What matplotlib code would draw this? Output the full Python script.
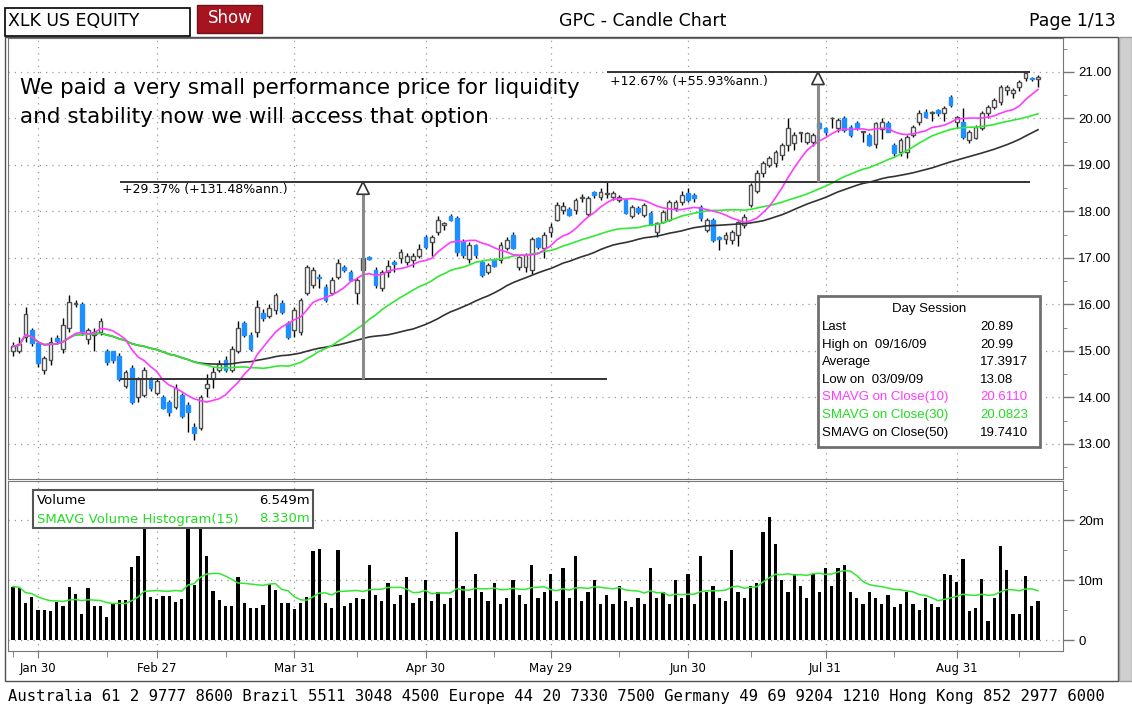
import numpy as np
import pandas as pd
import matplotlib
matplotlib.use("Agg")
import matplotlib.pyplot as plt
from matplotlib.patches import Rectangle, Polygon

W, H = 1132, 707

opens = [15.0, 15.0, 15.3, 15.45, 15.17, 14.6, 14.8, 15.28, 15.05, 15.5,
         16.0, 16.0, 15.25, 15.35, 15.4, 15.0, 15.0, 14.9, 14.25, 14.63,
         14.0, 14.05, 14.4, 14.1, 14.0, 13.9, 13.8, 14.05, 13.83, 13.37,
         13.35, 14.2, 14.4, 14.6, 14.8, 14.6, 15.0, 15.6, 15.35, 15.4,
         15.82, 15.75, 15.88, 16.03, 15.6, 15.45, 15.4, 16.25, 16.42, 16.6,
         16.38, 16.25, 16.6, 16.8, 16.7, 16.25, 16.74, 17.02, 16.74, 16.35,
         16.7, 16.92, 17.0, 16.92, 16.95, 17.05, 17.45, 17.35, 17.55, 17.7,
         17.9, 17.85, 17.35, 16.98, 17.28, 16.92, 16.7, 16.96, 16.96, 17.22,
         17.49, 16.8, 16.8, 16.74, 17.42, 17.22, 17.55, 17.82, 18.03, 18.05,
         18.03, 18.3, 17.95, 18.42, 18.32, 18.38, 18.32, 18.25, 18.25, 17.9,
         18.08, 17.92, 17.97, 17.55, 17.78, 17.82, 18.08, 18.2, 18.4, 18.35,
         18.1, 17.6, 17.82, 17.45, 17.4, 17.39, 17.5, 17.7, 18.14, 18.45,
         18.83, 19.0, 19.04, 19.22, 19.43, 19.47, 19.68, 19.5, 19.5, 19.9,
         19.8, 20.0, 19.8, 20.0, 19.82, 19.9, 19.72, 19.65, 19.45, 19.78,
         19.9, 19.43, 19.28, 19.28, 19.65, 19.92, 20.14, 20.12, 20.18, 20.12,
         20.46, 19.92, 19.92, 19.54, 19.58, 19.8, 20.12, 20.25, 20.36, 20.62,
         20.55, 20.68, 20.87, 20.88, 20.86]
highs = [15.2, 15.3, 15.95, 15.5, 15.2, 14.9, 15.3, 15.35, 15.7, 16.2,
         16.1, 16.05, 15.5, 15.5, 15.7, 15.05, 15.0, 14.95, 14.6, 14.7,
         14.45, 14.65, 14.45, 14.4, 14.05, 13.95, 14.3, 14.1, 13.9, 13.45,
         14.05, 14.5, 14.65, 14.8, 14.9, 15.1, 15.65, 15.65, 15.4, 16.1,
         15.9, 16.0, 16.25, 16.1, 15.65, 15.95, 16.15, 16.85, 16.8, 16.65,
         16.45, 16.6, 16.98, 16.85, 16.75, 16.6, 17.05, 17.05, 16.8, 16.75,
         16.95, 16.95, 17.2, 17.1, 17.1, 17.3, 17.5, 17.5, 17.9, 17.78,
         17.95, 17.9, 17.4, 17.35, 17.3, 16.95, 16.9, 17.0, 17.35, 17.45,
         17.55, 17.05, 17.1, 17.45, 17.45, 17.55, 17.75, 18.2, 18.2, 18.1,
         18.3, 18.37, 18.33, 18.45, 18.5, 18.64, 18.45, 18.36, 18.3, 18.15,
         18.12, 18.18, 18.0, 17.78, 18.03, 18.25, 18.25, 18.45, 18.5, 18.4,
         18.15, 17.85, 17.85, 17.48, 17.55, 17.6, 17.8, 17.95, 18.62, 18.9,
         19.08, 19.2, 19.32, 19.48, 20.0, 19.7, 19.72, 19.72, 19.68, 19.95,
         19.82, 20.03, 20.0, 20.05, 19.85, 19.95, 19.74, 19.68, 19.92, 20.0,
         19.95, 19.48, 19.58, 19.65, 19.86, 20.18, 20.2, 20.16, 20.2, 20.26,
         20.5, 20.06, 20.23, 19.75, 19.86, 20.16, 20.28, 20.45, 20.72, 20.72,
         20.66, 20.82, 20.99, 20.9, 20.93]
lows = [14.9, 14.95, 15.2, 15.1, 14.65, 14.5, 14.7, 15.15, 14.95, 15.4,
        15.95, 15.35, 15.15, 15.0, 15.35, 14.7, 14.75, 14.35, 14.2, 13.85,
        13.9, 14.0, 14.15, 14.05, 13.75, 13.6, 13.75, 13.55, 13.25, 13.08,
        13.3, 14.0, 14.2, 14.55, 14.55, 14.55, 14.95, 15.3, 15.0, 15.3,
        15.65, 15.7, 15.8, 15.8, 15.25, 15.3, 15.35, 16.2, 16.35, 16.35,
        16.05, 16.2, 16.55, 16.7, 16.5, 16.0, 16.6, 16.95, 16.35, 16.3,
        16.6, 16.7, 16.9, 16.85, 16.8, 17.0, 17.2, 17.05, 17.5, 17.6,
        17.8, 17.05, 17.0, 16.9, 17.0, 16.6, 16.65, 16.8, 16.9, 17.18,
        17.2, 16.75, 16.7, 16.65, 17.2, 17.0, 17.45, 17.8, 17.95, 17.9,
        17.95, 18.2, 17.9, 18.3, 18.25, 18.3, 18.25, 18.2, 17.95, 17.85,
        17.95, 17.88, 17.7, 17.45, 17.75, 17.8, 18.0, 18.15, 18.2, 18.2,
        17.8, 17.55, 17.35, 17.17, 17.3, 17.3, 17.25, 17.65, 18.1, 18.4,
        18.75, 18.95, 18.95, 19.1, 19.3, 19.33, 19.5, 19.45, 19.4, 19.75,
        19.65, 19.8, 19.7, 19.7, 19.6, 19.75, 19.5, 19.4, 19.37, 19.55,
        19.7, 19.2, 19.2, 19.15, 19.6, 19.85, 20.0, 19.95, 20.05, 19.95,
        20.25, 19.8, 19.55, 19.48, 19.55, 19.75, 20.0, 20.2, 20.3, 20.5,
        20.45, 20.6, 20.8, 20.8, 20.68]
closes = [15.1, 15.15, 15.8, 15.17, 14.74, 14.85, 15.2, 15.22, 15.55, 16.05,
          16.03, 15.4, 15.45, 15.4, 15.65, 14.76, 14.8, 14.4, 14.55, 13.9,
          14.4, 14.6, 14.2, 14.35, 13.77, 13.68, 14.2, 13.6, 13.68, 13.24,
          14.0, 14.3, 14.55, 14.72, 14.6, 15.05, 15.5, 15.35, 15.05, 15.95,
          15.72, 15.92, 16.2, 15.84, 15.3, 15.88, 16.1, 16.8, 16.74, 16.56,
          16.1, 16.53, 16.9, 16.75, 16.53, 16.53, 17.0, 16.98, 16.42, 16.7,
          16.82, 16.88, 17.12, 17.05, 17.05, 17.2, 17.23, 17.45, 17.82, 17.75,
          17.82, 17.12, 17.06, 17.28, 17.06, 16.63, 16.85, 16.82, 17.28, 17.38,
          17.22, 17.02, 17.06, 17.4, 17.23, 17.49, 17.67, 18.14, 18.12, 17.92,
          18.25, 18.32, 18.28, 18.35, 18.42, 18.4, 18.4, 18.32, 17.97, 18.1,
          17.99, 18.14, 17.71, 17.75, 17.99, 18.2, 18.2, 18.35, 18.25, 18.28,
          17.86, 17.82, 17.39, 17.4, 17.49, 17.55, 17.77, 17.88, 18.57, 18.83,
          19.04, 19.15, 19.28, 19.43, 19.8, 19.65, 19.7, 19.68, 19.65, 19.8,
          19.72, 20.02, 19.97, 19.75, 19.65, 19.8, 19.72, 19.43, 19.9, 19.92,
          19.72, 19.26, 19.54, 19.6, 19.82, 20.12, 20.03, 20.14, 20.12, 20.22,
          20.29, 20.03, 19.6, 19.72, 19.82, 20.12, 20.25, 20.4, 20.68, 20.68,
          20.61, 20.79, 20.98, 20.85, 20.89]
volume = [8.9, 8.7, 6.1, 7.2, 5.0, 5.0, 4.9, 6.3, 5.7, 8.9,
          7.6, 4.4, 8.6, 5.7, 5.7, 3.9, 6.1, 6.7, 6.7, 12.1,
          14.0, 19.5, 7.1, 6.9, 7.3, 7.3, 6.3, 6.9, 21.0, 9.2,
          20.0, 14.0, 8.1, 6.7, 5.6, 5.7, 10.5, 6.1, 5.3, 5.3,
          5.9, 9.4, 8.3, 6.2, 6.2, 5.1, 6.1, 7.2, 14.8, 15.2,
          6.2, 5.3, 15.0, 5.7, 6.2, 7.0, 6.8, 12.5, 7.5, 6.5,
          9.5, 6.0, 7.5, 10.5, 6.2, 7.0, 10.0, 6.5, 8.0, 6.0,
          7.0, 18.0, 9.0, 7.0, 11.0, 8.0, 6.5, 9.5, 6.0, 7.0,
          10.0, 7.5, 6.0, 12.5, 7.0, 8.0, 11.0, 6.5, 12.0, 7.0,
          14.0, 6.5, 8.0, 10.0, 6.0, 7.5, 6.0, 9.0, 6.5, 5.5,
          7.0, 6.0, 12.0, 7.0, 8.0, 6.0, 10.0, 7.0, 11.0, 6.0,
          14.0, 8.0, 9.0, 7.0, 6.5, 15.0, 8.0, 7.0, 9.0, 9.5,
          18.0, 20.5, 16.0, 10.0, 8.0, 11.0, 9.0, 7.0, 11.0, 8.0,
          12.0, 9.0, 12.0, 12.5, 8.0, 7.0, 6.0, 8.0, 7.0, 6.0,
          7.5, 5.5, 6.0, 8.0, 6.0, 5.0, 7.0, 6.0, 5.5, 11.0,
          10.8, 9.7, 13.5, 4.9, 5.3, 10.1, 3.1, 7.0, 15.6, 11.7,
          4.4, 4.4, 10.6, 5.7, 6.549]

day_rows = [("Last", "20.89"), ("High on  09/16/09", "20.99"), ("Average", "17.3917"),
            ("Low on  03/09/09", "13.08"), ("SMAVG on Close(10)", "20.6110"),
            ("SMAVG on Close(30)", "20.0823"), ("SMAVG on Close(50)", "19.7410")]

dates = pd.bdate_range("2009-01-26", "2009-09-18")
dates = dates[~dates.isin(pd.to_datetime(["2009-02-16", "2009-04-10", "2009-05-25",
                                            "2009-07-03", "2009-09-07"]))]

BLUE = "#1e8fff"
PINK = "#ff3cff"
GREEN = "#33e833"
GRID = dict(color="#9a9a9a", lw=0.9, ls=(0, (1, 4)))

o, h, l, c = map(np.array, (opens, highs, lows, closes))
x = np.arange(len(c))
s = pd.Series(c)
sma10 = s.rolling(10, min_periods=1).mean()
sma30 = s.rolling(30, min_periods=1).mean()
sma50 = s.rolling(50, min_periods=1).mean()
vsma = pd.Series(volume).rolling(15, min_periods=1).mean()


def fx(px):
    return px / W


def fy(py):
    return 1 - py / H


fig = plt.figure(figsize=(W / 100, H / 100), dpi=100)
plt.rcParams['font.family'] = ['Liberation Sans', 'DejaVu Sans']

ax = fig.add_axes([fx(8), fy(479), fx(1063) - fx(8), fy(38) - fy(479)])
axv = fig.add_axes([fx(8), fy(651), fx(1063) - fx(8), fy(481) - fy(651)])

# month-end labels and mid-month ticks
s_dates = pd.Series(dates)
month_end = s_dates.groupby(s_dates.dt.to_period("M")).idxmax().values[:-1]
mid = s_dates[s_dates.dt.day >= 15].groupby(s_dates.dt.to_period("M")).idxmin().values
xlim = (-0.8, 168)

# price panel
ax.vlines(x, l, h, color="black", lw=1, zorder=3)
up = c >= o
body_lo = np.minimum(o, c)
body_h = np.maximum(np.abs(c - o), 0.02)
ax.bar(x[up], body_h[up], bottom=body_lo[up], width=0.62, facecolor="white",
       edgecolor="#505050", lw=1, zorder=4)
ax.bar(x[~up], body_h[~up], bottom=body_lo[~up], width=0.62, facecolor=BLUE,
       edgecolor=BLUE, lw=1, zorder=4)
ax.plot(x, sma50, color="#333333", lw=1.2, zorder=5)
ax.plot(x, sma30, color=GREEN, lw=1.2, zorder=5)
ax.plot(x, sma10, color=PINK, lw=1.2, zorder=5)

ax.set_xlim(*xlim)
ax.set_ylim(12.247, 21.731)
ax.set_yticks(np.arange(13, 22, 1))
ax.set_yticklabels([f"{v:.2f}" for v in np.arange(13, 22, 1)], fontsize=9.5)
ax.set_yticks(np.arange(12.5, 22, 1), minor=True)
ax.yaxis.tick_right()
ax.tick_params(axis="y", which="major", length=8, width=1, color="#777777", pad=3)
ax.tick_params(axis="y", which="minor", length=3, color="#777777")
ax.set_xticks(month_end)
ax.tick_params(axis="x", length=0, labelbottom=False)
for v in np.arange(13, 22, 1):
    ax.axhline(v, zorder=1, **GRID)
for m in month_end:
    ax.axvline(m, zorder=1, **GRID)

# measurement lines
ax.hlines(14.4, 17.1, 95.0, color="#333333", lw=1.4, zorder=6)
ax.hlines(18.64, 17.1, 162.7, color="#333333", lw=1.4, zorder=6)
ax.hlines(21.0, 95.0, 162.7, color="#333333", lw=1.4, zorder=6)
for ax_x, y0, y1 in [(56.0, 14.4, 18.64), (128.8, 18.64, 21.0)]:
    ax.vlines(ax_x, y0, y1 - 0.27, color="#8a8a8a", lw=2.2, zorder=6)
    ax.add_patch(Polygon([(ax_x - 1.0, y1 - 0.27), (ax_x + 1.0, y1 - 0.27), (ax_x, y1)],
                         closed=True, facecolor="white", edgecolor="#333333", lw=1.2, zorder=7))
ax.text(17.5, 18.47, "+29.37% (+131.48%ann.)", fontsize=9, va="center", zorder=7,
        family="DejaVu Sans")
ax.text(95.5, 20.8, "+12.67% (+55.93%ann.)", fontsize=9, va="center", zorder=7,
        family="DejaVu Sans")

for sp in ax.spines.values():
    sp.set_color("#777777")

# volume panel
axv.bar(x, volume, width=0.55, color="black", zorder=3)
axv.plot(x, vsma, color=GREEN, lw=1.1, zorder=4)
axv.set_xlim(*xlim)
axv.set_ylim(-1.83, 26.5)
axv.yaxis.tick_right()
axv.set_yticks([0, 10, 20])
axv.set_yticklabels(["0", "10m", "20m"], fontsize=9.5)
axv.set_yticks([5, 15, 25], minor=True)
axv.tick_params(axis="y", which="major", length=8, width=1, color="#777777", pad=3)
axv.tick_params(axis="y", which="minor", length=3, color="#777777")
for v in [0, 10, 20]:
    axv.axhline(v, zorder=1, **GRID)
for m in month_end:
    axv.axvline(m, zorder=1, **GRID)
axv.set_xticks(month_end)
axv.set_xticklabels([d.strftime("%b %d").replace(" 0", " ") for d in dates[month_end]],
                    fontsize=8.5, family="DejaVu Sans")
axv.set_xticks(mid, minor=True)
axv.tick_params(axis="x", which="major", length=5, color="#777777", pad=3)
axv.tick_params(axis="x", which="minor", length=4, color="#777777")
for sp in axv.spines.values():
    sp.set_color("#777777")

# annotation
fig.text(fx(20), fy(88), "We paid a very small performance price for liquidity",
         fontsize=15.5, va="center", family="DejaVu Sans")
fig.text(fx(20), fy(117), "and stability now we will access that option",
         fontsize=15.5, va="center", family="DejaVu Sans")

# day session box
fig.add_artist(Rectangle((fx(818), fy(447)), fx(1040) - fx(818), fy(296) - fy(447),
                         transform=fig.transFigure, facecolor="white",
                         edgecolor="#707070", lw=2, zorder=5))
fig.text(fx(929), fy(309), "Day Session", fontsize=9.5, ha="center", va="center", zorder=6)
row_colors = ["black"] * 4 + [PINK, "#22dd22", "black"]
for k, ((lab, val), col) in enumerate(zip(day_rows, row_colors)):
    yy = fy(327 + k * 17.6)
    fig.text(fx(822), yy, lab, fontsize=9.5, va="center", color=col, zorder=6)
    fig.text(fx(980), yy, val, fontsize=9.5, va="center", color=col, zorder=6)

# volume legend
fig.add_artist(Rectangle((fx(33), fy(528)), fx(313) - fx(33), fy(490) - fy(528),
                         transform=fig.transFigure, facecolor="white",
                         edgecolor="#555555", lw=1.5, zorder=5))
fig.text(fx(37), fy(501), "Volume", fontsize=9.5, va="center", zorder=6, family="DejaVu Sans")
fig.text(fx(310), fy(501), f"{volume[-1]:.3f}m", fontsize=9.5, va="center", ha="right",
         zorder=6, family="DejaVu Sans")
fig.text(fx(37), fy(519), "SMAVG Volume Histogram(15)", fontsize=9.5, va="center",
         color="#22dd22", zorder=6, family="DejaVu Sans")
fig.text(fx(310), fy(519), "8.330m", fontsize=9.5, va="center", ha="right",
         color="#22dd22", zorder=6, family="DejaVu Sans")

# frame and header
fig.add_artist(Rectangle((fx(5), fy(681)), fx(1118) - fx(5), fy(37) - fy(681),
                         transform=fig.transFigure, fill=False, edgecolor="#505050", lw=1))
fig.add_artist(Rectangle((fx(1119), fy(681)), fx(1132) - fx(1119), fy(37) - fy(681),
                         transform=fig.transFigure, facecolor="#cfcfcf", edgecolor="#9a9a9a", lw=1))
fig.add_artist(Rectangle((fx(5), fy(36)), fx(190) - fx(5), fy(8) - fy(36),
                         transform=fig.transFigure, facecolor="white", edgecolor="black", lw=1.2))
fig.text(fx(8), fy(21), "XLK US EQUITY", fontsize=12.5, va="center", family="DejaVu Sans")
fig.add_artist(Rectangle((fx(197), fy(33)), fx(262) - fx(197), fy(5) - fy(33),
                         transform=fig.transFigure, facecolor="#a5141f", edgecolor="#70101a", lw=1))
fig.text(fx(230), fy(18), "Show", fontsize=12, color="white", ha="center", va="center",
         family="DejaVu Sans")
fig.text(fx(643), fy(21), "GPC - Candle Chart", fontsize=12.5, ha="center", va="center",
         family="DejaVu Sans")
fig.text(fx(1116), fy(21), "Page 1/13", fontsize=12.5, ha="right", va="center",
         family="DejaVu Sans")

fig.text(fx(8), fy(697), "Australia 61 2 9777 8600 Brazil 5511 3048 4500 Europe 44 20 7330 7500 "
         "Germany 49 69 9204 1210 Hong Kong 852 2977 6000",
         fontsize=11.2, va="center", family="DejaVu Sans Mono")

fig.savefig("out.png", dpi=100)
